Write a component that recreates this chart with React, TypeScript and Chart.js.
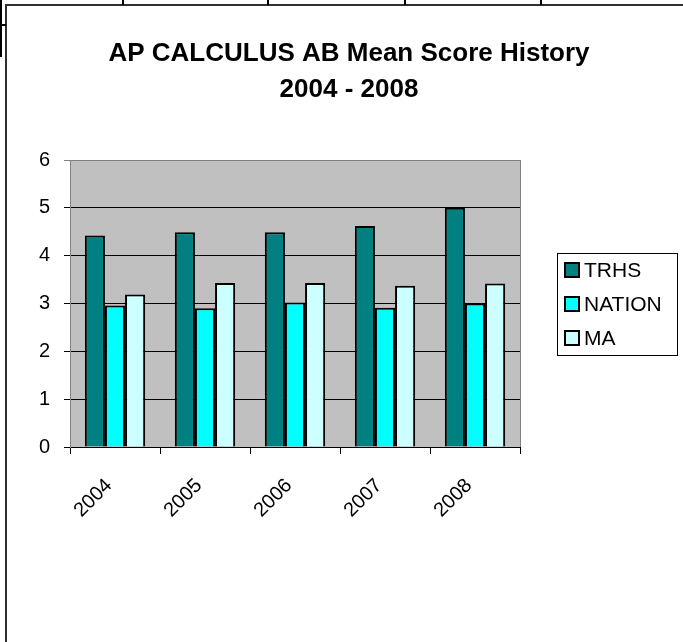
import React, { useEffect, useRef } from "react";
import { Chart, registerables } from "chart.js";

Chart.register(...registerables);

const categories = ["2004", "2005", "2006", "2007", "2008"];
const trhs = [4.42, 4.49, 4.49, 4.62, 5.0];
const nation = [2.96, 2.9, 3.02, 2.91, 3.0];
const ma = [3.19, 3.43, 3.43, 3.37, 3.42];
const yTicks = [0, 1, 2, 3, 4, 5, 6];
const titleLines = ["AP CALCULUS AB Mean Score History", "2004 - 2008"];

const FONT = "'Liberation Sans', Arial, sans-serif";

const framePlugin = {
  id: "frame",
  beforeDraw(chart: any) {
    const { ctx, chartArea: a, width, height } = chart;
    ctx.save();
    ctx.fillStyle = "#ffffff";
    ctx.fillRect(0, 0, width, height);
    // plot background
    ctx.fillStyle = "#C0C0C0";
    ctx.fillRect(a.left, a.top, a.right - a.left, a.bottom - a.top);
    ctx.strokeStyle = "#808080";
    ctx.lineWidth = 1;
    ctx.beginPath();
    ctx.moveTo(Math.round(a.right) + 0.5, a.top);
    ctx.lineTo(Math.round(a.right) + 0.5, a.bottom);
    ctx.stroke();
    // outer chart frame
    ctx.strokeStyle = "#303030";
    ctx.lineWidth = 2;
    ctx.beginPath();
    ctx.moveTo(6, height + 2);
    ctx.lineTo(6, 5);
    ctx.lineTo(width + 2, 5);
    ctx.stroke();
    // spreadsheet cell borders behind
    ctx.strokeStyle = "#000";
    ctx.lineWidth = 2;
    ctx.beginPath();
    ctx.moveTo(1, 0);
    ctx.lineTo(1, 57);
    ctx.moveTo(0, 25);
    ctx.lineTo(6, 25);
    [123, 268, 405, 541].forEach((x) => {
      ctx.moveTo(x, 0);
      ctx.lineTo(x, 5);
    });
    ctx.stroke();
    ctx.restore();
  },
  afterDraw(chart: any) {
    const { ctx } = chart;
    ctx.save();
    // title
    ctx.fillStyle = "#000";
    ctx.font = `bold 26px ${FONT}`;
    ctx.textAlign = "center";
    ctx.textBaseline = "alphabetic";
    ctx.fillText(titleLines[0], 349, 61);
    ctx.fillText(titleLines[1], 349, 97);
    // legend
    const lx = 557, ly = 253, lw = 120, lh = 102;
    ctx.strokeStyle = "#000";
    ctx.lineWidth = 1;
    ctx.strokeRect(lx + 0.5, ly + 0.5, lw, lh);
    ctx.font = `21px ${FONT}`;
    ctx.textAlign = "left";
    ctx.textBaseline = "middle";
    chart.data.datasets.forEach((ds: any, i: number) => {
      const cy = 270 + i * 34;
      ctx.fillStyle = ds.backgroundColor;
      ctx.fillRect(565, cy - 7, 14, 14);
      ctx.lineWidth = 2;
      ctx.strokeStyle = "#000";
      ctx.strokeRect(565, cy - 7, 14, 14);
      ctx.fillStyle = "#000";
      ctx.fillText(ds.label, 584, cy + 1);
    });
    ctx.restore();
  },
};

export default function App() {
  const ref = useRef<HTMLCanvasElement>(null);
  useEffect(() => {
    if (!ref.current) return;
    const mk = (label: string, data: number[], color: string) => ({
      label,
      data,
      backgroundColor: color,
      borderColor: "#000",
      borderWidth: 2,
      barPercentage: 1.0,
      categoryPercentage: 0.67,
    });
    const chart = new Chart(ref.current, {
      type: "bar",
      data: {
        labels: categories,
        datasets: [
          mk("TRHS", trhs, "#008080"),
          mk("NATION", nation, "#00FFFF"),
          mk("MA", ma, "#CCFFFF"),
        ],
      },
      plugins: [framePlugin],
      options: {
        responsive: false,
        animation: false,
        devicePixelRatio: 1,
        layout: { padding: { left: 30, right: 163, top: 160, bottom: 115 } },
        plugins: {
          legend: { display: false },
          title: { display: false },
          tooltip: { enabled: false },
        },
        scales: {
          x: {
            offset: true,
            grid: {
              display: true,
              drawOnChartArea: false,
              drawTicks: true,
              tickLength: 7,
              color: "#000",
              offset: true,
            },
            border: { display: true, color: "#000", width: 1 },
            ticks: {
              color: "#000",
              font: { family: FONT, size: 20 },
              minRotation: 45,
              maxRotation: 45,
              autoSkip: false,
              padding: 20,
              labelOffset: -6,
            },
            afterFit: (s: any) => {
              s.height = 80;
            },
          },
          y: {
            min: 0,
            max: 6,
            afterBuildTicks: (s: any) => {
              s.ticks = yTicks.map((v) => ({ value: v }));
            },
            grid: {
              color: (c: any) => (c.tick && c.tick.value === 6 ? "#808080" : "#000"),
              tickLength: 6,
              lineWidth: 1,
            },
            border: { display: true, color: "#808080", width: 1 },
            ticks: {
              color: "#000",
              font: { family: FONT, size: 20 },
              padding: 14,
            },
            afterFit: (s: any) => {
              s.width = 40;
            },
          },
        },
      },
    });
    return () => chart.destroy();
  }, []);
  return (
    <div style={{ position: "fixed", left: 0, top: 0, width: 683, height: 642, background: "#fff" }}>
      <canvas ref={ref} width={683} height={642} style={{ width: 683, height: 642, display: "block" }} />
    </div>
  );
}
